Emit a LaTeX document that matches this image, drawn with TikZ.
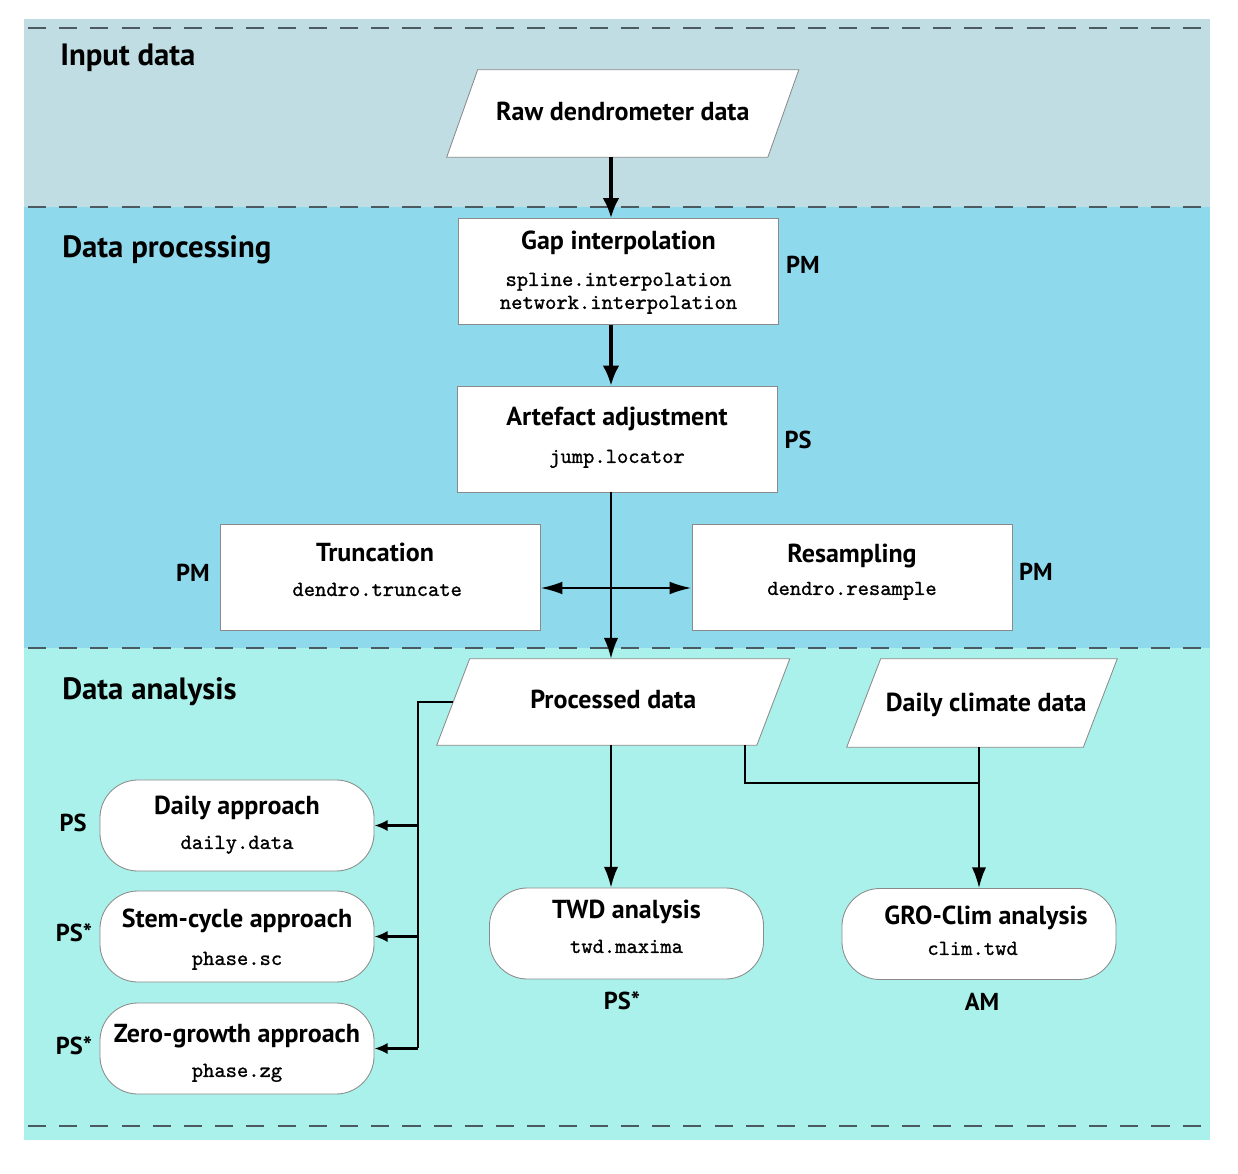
\documentclass[tikz,border=0pt]{standalone}
\usepackage{fontspec}
\setmainfont{PT Sans}
\newfontface\codeface{lmmono10-regular.otf}[FakeBold=1.0]
\usetikzlibrary{arrows.meta,calc}
\pgfdeclarelayer{back}
\pgfdeclarelayer{mid}
\pgfsetlayers{back,mid,main}
\definecolor{bandA}{HTML}{C0DDE4}
\definecolor{bandB}{HTML}{8FD9EC}
\definecolor{bandC}{HTML}{A9F1EA}
\definecolor{edgec}{HTML}{8A8A8A}
\definecolor{dashc}{HTML}{4A5A60}
\newcommand\boxtitle{\fontsize{18.5}{21}\selectfont\rmfamily\bfseries}
\newcommand\boxcode{\fontsize{15.3}{16.4}\selectfont\codeface}
\newcommand\secfont{\fontsize{21.9}{25}\selectfont\bfseries}
\newcommand\tagfont{\fontsize{17.4}{20}\selectfont\bfseries}
% #1 title, #2 gap below title, #3 code line(s), #4 bottom strut depth
\newcommand\boxtext[4]{\rule{0pt}{21.3pt}{\boxtitle #1}\\[#2]#3\rule[-#4]{0pt}{#4}}
\newcommand\paraoutline[2]{%
  \begin{pgfonlayer}{mid}
  \draw[paraline] ($(#1.north west)+(#2,0)$) -- ($(#1.north east)+(#2,0)$)
     -- ($(#1.south east)-(#2,0)$) -- ($(#1.south west)-(#2,0)$) -- cycle;
  \end{pgfonlayer}}
\begin{document}
\begin{tikzpicture}[x=0.025cm,y=-0.025cm,
  box/.style={draw=edgec, line width=0.6pt, fill=white, rectangle,
    minimum width=8cm, minimum height=2.65cm, align=center, inner sep=0pt, font=\boxcode},
  rbox/.style={draw=edgec, line width=0.6pt, fill=white, rectangle, rounded corners=0.95cm,
    minimum width=6.85cm, minimum height=2.275cm, align=center, inner sep=0pt, font=\boxcode},
  para/.style={rectangle, draw=none, inner sep=0pt, font=\boxtitle, text depth=4pt},
  paraline/.style={draw=edgec, line width=0.6pt, fill=white},
  sect/.style={anchor=west, font=\secfont, inner sep=0pt},
  tag/.style={font=\tagfont, inner sep=0pt},
  sep/.style={draw=dashc, line width=0.9pt, dash pattern=on 0.45cm off 0.33cm},
  link/.style={line width=1.6pt, draw=black},
  arr/.style={link, -{Latex[length=0.52cm,width=0.36cm]}},
  bigarr/.style={line width=2.3pt, draw=black, -{Latex[length=0.5cm,width=0.42cm]}},
  sarr/.style={link, -{Latex[length=0.33cm,width=0.28cm]}},
  darr/.style={link, {Latex[length=0.55cm,width=0.32cm]}-{Latex[length=0.55cm,width=0.32cm]}}
]
\useasboundingbox (0,0) rectangle (1238,1174);
% bands
\begin{pgfonlayer}{back}
\fill[bandA] (24,19) rectangle (1210,207);
\fill[bandB] (24,207) rectangle (1210,648);
\fill[bandC] (24,648) rectangle (1210,1140);
\draw[sep] (28,28) -- (1210,28);
\draw[sep] (28,207) -- (1210,207);
\draw[sep] (28,648) -- (1210,648);
\draw[sep] (28,1126) -- (1210,1126);
\end{pgfonlayer}
% section labels
\node[sect] (s1) at (60,58) {Input data};
\node[sect] (s2) at (62,250) {Data processing};
\node[sect] (s3) at (62,692) {Data analysis};
% nodes
\node[para, text height=14.5pt, minimum width=8.0125cm, minimum height=2.175cm] (raw) at (622.75,113.5) {Raw dendrometer data};
\paraoutline{raw}{15.5}
\node[box] (gap) at (618.5,271.5) {\boxtext{Gap interpolation}{9.2pt}{spline.interpolation\\network.interpolation}{10pt}};
\node[box] (art) at (617,439) {\boxtext{Artefact adjustment}{10.6pt}{jump.locator}{14.2pt}};
\node[box] (trunc) at (380,577) {\boxtext{\hspace*{-7pt}Truncation}{7.8pt}{\hspace*{-4pt}dendro.truncate}{18.5pt}};
\node[box] (resamp) at (852,577) {\boxtext{Resampling}{6.4pt}{dendro.resample}{18.5pt}};
\node[para, text height=13pt, minimum width=7.9875cm, minimum height=2.15cm] (proc) at (613.25,702) {Processed data};
\paraoutline{proc}{16.5}
\node[para, text height=16.5pt, minimum width=5.9cm, minimum height=2.2cm] (clim) at (982,703) {\hspace*{6pt}Daily climate data};
\paraoutline{clim}{17}
\node[rbox] (daily) at (237,825.5) {\boxtext{Daily approach}{7.8pt}{daily.data}{12.1pt}};
\node[rbox] (stem) at (237,936.5) {\boxtext{Stem-cycle approach}{10.6pt}{phase.sc}{7.8pt}};
\node[rbox] (zero) at (237,1048.5) {\boxtext{Zero-growth approach}{7.8pt}{phase.zg}{5pt}};
\node[rbox] (twd) at (626.5,933.5) {\boxtext{TWD analysis}{7.8pt}{twd.maxima}{17.8pt}};
\node[rbox] (gro) at (979,934) {\boxtext{\hspace*{10pt}GRO-Clim analysis}{5.6pt}{\hspace*{-0.6em}clim.twd}{13.5pt}};
% tags
\node[tag] (t1) at (803,265) {PM};
\node[tag] (t2) at (798,440) {PS};
\node[tag] (t3) at (193,573) {PM};
\node[tag] (t4) at (1036,572) {PM};
\node[tag] (t5) at (73,823) {PS};
\node[tag] (t6) at (74,933) {PS*};
\node[tag] (t7) at (74,1046) {PS*};
\node[tag] (t8) at (622,1001) {PS*};
\node[tag] (t9) at (982,1002) {AM};
% coordinates
\coordinate (spine) at (611,0);
\coordinate (cross) at (611,588);
\coordinate (bus) at (418,1048);
\coordinate (drop) at (745,783);
% connectors
\draw[bigarr] (raw.south -| spine) -- (gap.north -| spine);
\draw[bigarr] (gap.south -| spine) -- (art.north -| spine);
\draw[arr] (art.south -| spine) -- (proc.north -| spine);
\draw[darr] (trunc.east |- cross) -- (resamp.west |- cross);
\draw[arr] (proc.south -| spine) -- (twd.north -| spine);
\draw[link] (proc.south -| drop) -- (drop) -- (drop -| gro.north);
\draw[arr] (clim.south -| gro.north) -- (gro.north);
\draw[link] (proc.west) -| (bus);
\draw[sarr] (daily.east -| bus) -- (daily.east);
\draw[sarr] (stem.east -| bus) -- (stem.east);
\draw[sarr] (zero.east -| bus) -- (zero.east);
\end{tikzpicture}
\end{document}
